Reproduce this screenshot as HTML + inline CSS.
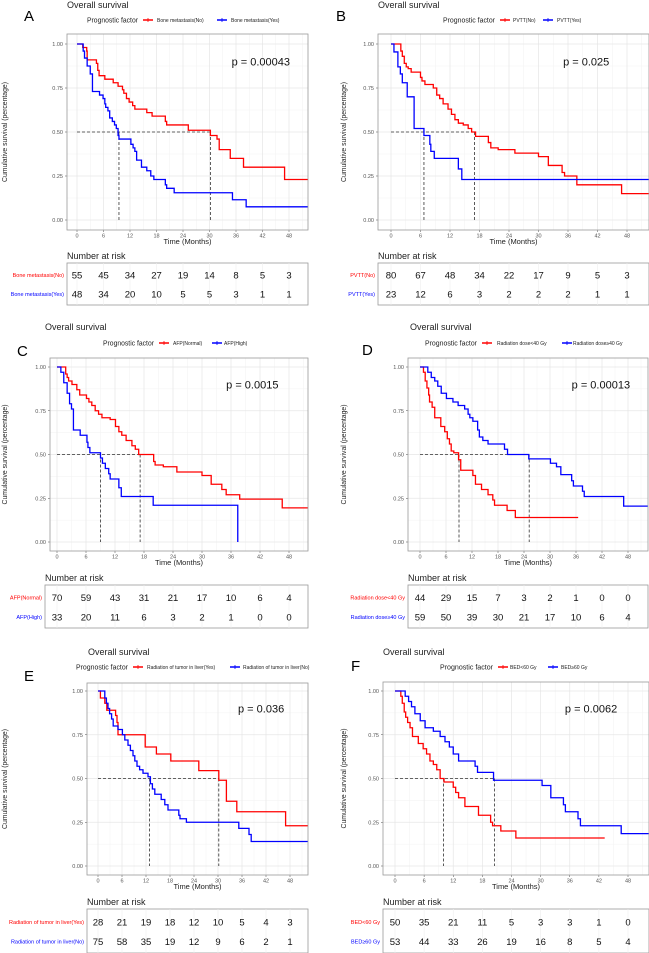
<!DOCTYPE html>
<html><head><meta charset="utf-8"><style>
body{margin:0;background:#fff;}
svg{display:block;font-family:"Liberation Sans",sans-serif;}
</style></head><body>
<svg id="fig" width="649" height="953" viewBox="0 0 649 953" xmlns="http://www.w3.org/2000/svg"></svg>
<script>
// ---- data ----
const riskTimes = [0,6,12,18,24,30,36,42,48];
const xTickLabels = ["0","6","12","18","24","30","36","42","48"];
const yTickValues = [0,0.25,0.5,0.75,1];
const yTickLabels = ["0.00","0.25","0.50","0.75","1.00"];

// A
const aRedT = [0,1.3,2.2,2.3,4.4,4.7,5.0,6.3,8.2,9.3,10.3,10.6,11.2,11.8,12.6,13.1,15.8,17,20,20.3,25.2,30.2,31.7,32.2,34.7,37.7,47];
const aRedS = [1,0.98,0.96,0.91,0.89,0.85,0.82,0.80,0.78,0.76,0.74,0.72,0.69,0.67,0.65,0.63,0.61,0.59,0.56,0.54,0.51,0.48,0.46,0.40,0.35,0.30,0.23];
const aBlueT = [0,1.4,1.7,2.3,3.0,3.5,5.1,5.9,6.3,6.5,7.0,7.4,8.0,8.5,8.9,9.3,9.5,12.2,12.7,13.1,13.5,14.6,15.8,16.7,17.4,20,20.3,22,35.2,38.3];
const aBlueS = [1,0.96,0.92,0.875,0.83,0.73,0.71,0.69,0.66,0.64,0.62,0.58,0.56,0.54,0.52,0.48,0.46,0.43,0.41,0.39,0.34,0.30,0.28,0.25,0.23,0.20,0.18,0.155,0.115,0.075];
const aRiskRed = [55,45,34,27,19,14,8,5,3];
const aRiskBlue = [48,34,20,10,5,5,3,1,1];
// B
const bRedT = [0,2.0,2.3,2.7,3.1,3.5,4.1,4.8,6.0,6.3,6.9,8.6,9.3,9.9,10.6,11.6,12.3,13,13.7,14.7,15.7,16.4,17.2,19.8,20.3,21.8,25.2,30,32,34.8,35.3,37.8,46.9];
const bRedS = [1,0.96,0.93,0.89,0.87,0.86,0.84,0.84,0.81,0.79,0.77,0.75,0.71,0.69,0.66,0.63,0.60,0.57,0.55,0.54,0.52,0.50,0.475,0.44,0.41,0.40,0.38,0.36,0.31,0.27,0.25,0.20,0.15];
const bBlueT = [0,0.6,1.4,1.9,2.3,3.3,4.7,6.7,7.9,8.1,8.8,13.7,14.4];
const bBlueS = [1,0.955,0.87,0.83,0.78,0.70,0.52,0.48,0.43,0.39,0.35,0.29,0.23];
const bRiskRed = [80,67,48,34,22,17,9,5,3];
const bRiskBlue = [23,12,6,3,2,2,2,1,1];
// C
const cRedT = [0,1.8,2.1,2.4,3.1,4.1,4.7,5.0,6.1,6.6,7.2,7.9,8.6,9.3,11,12.1,12.8,13.4,14.3,15.5,16.2,16.9,20,20.3,22,24.8,30,31.9,34.1,35,37.8,46.6];
const cRedS = [1,0.96,0.94,0.92,0.90,0.87,0.84,0.84,0.82,0.80,0.78,0.75,0.73,0.71,0.70,0.66,0.63,0.61,0.58,0.55,0.53,0.50,0.46,0.44,0.43,0.40,0.38,0.33,0.30,0.27,0.245,0.195];
const cBlueT = [0,0.8,1.4,2.1,2.6,3.0,3.4,4.8,6.2,6.4,6.8,9,9.4,10,10.7,11,12.8,13.3,19.9,37.4];
const cBlueS = [1,0.97,0.91,0.85,0.79,0.76,0.64,0.61,0.57,0.54,0.51,0.48,0.45,0.42,0.39,0.36,0.31,0.26,0.21,0];
const cRiskRed = [70,59,43,31,21,17,10,6,4];
const cRiskBlue = [33,20,11,6,3,2,1,0,0];
// D
const dRedT = [0,0.8,1.2,1.6,2.0,2.2,2.8,3.4,4.8,5.7,6.3,6.8,7.2,7.8,8.9,9.4,12.2,12.8,14.2,15.7,16.8,17.2,20.1,22];
const dRedS = [1,0.97,0.92,0.88,0.84,0.80,0.77,0.71,0.66,0.63,0.59,0.56,0.52,0.51,0.47,0.41,0.38,0.33,0.30,0.27,0.24,0.21,0.18,0.14];
const dBlueT = [0,1.8,2.6,3.4,4.1,4.9,6.1,7.6,8.8,10.3,11.1,11.5,12.2,13.3,13.7,14.5,15.7,19.5,20.2,25.1,30.1,31.5,32.5,35,35.4,37.5,37.9,47];
const dBlueS = [1,0.97,0.94,0.92,0.89,0.85,0.82,0.80,0.78,0.76,0.73,0.71,0.69,0.64,0.60,0.58,0.56,0.53,0.50,0.475,0.45,0.43,0.385,0.35,0.32,0.29,0.26,0.205];
const dRiskRed = [44,29,15,7,3,2,1,0,0];
const dRiskBlue = [59,50,39,30,21,17,10,6,4];
// E
const eRedT = [0,0.6,1.7,2.2,4.4,4.75,5.0,11.8,14.6,18.2,25.2,30.2,32.1,34.7,46.9];
const eRedS = [1,0.96,0.93,0.89,0.86,0.82,0.75,0.68,0.64,0.60,0.545,0.49,0.37,0.31,0.23];
const eBlueT = [0,1.7,2.1,2.5,2.9,3.4,3.8,5.0,6.1,6.7,7.5,8.1,8.75,9.2,9.75,10.4,11.25,12.5,13.1,13.6,14.2,15.8,16.7,17.5,20.2,20.5,22.1,35.2,37.75,38.3];
const eBlueS = [1,0.96,0.93,0.90,0.87,0.84,0.80,0.78,0.75,0.72,0.69,0.66,0.63,0.60,0.57,0.55,0.53,0.51,0.47,0.44,0.41,0.38,0.35,0.32,0.29,0.27,0.25,0.215,0.18,0.14];
const eRiskRed = [28,21,19,18,12,10,5,4,3];
const eRiskBlue = [75,58,35,19,12,9,6,2,1];
// F
const fRedT = [0,1.2,1.5,1.9,2.2,2.6,3.1,3.6,4.8,5.8,6.5,7.2,7.9,8.6,9.3,10.1,12,12.5,13.1,14.4,17.2,19.7,20.1,21.8,24.9];
const fRedS = [1,0.97,0.93,0.88,0.85,0.82,0.79,0.74,0.70,0.67,0.64,0.60,0.58,0.55,0.50,0.48,0.45,0.42,0.39,0.34,0.29,0.25,0.23,0.20,0.16];
const fBlueT = [0,2.1,2.8,3.4,4.1,5.2,6.2,7.9,9.3,10.3,11.2,12,13.1,16.5,17,20.3,30.3,32.1,34.7,35.1,37.7,38.2,46.6];
const fBlueS = [1,0.97,0.94,0.91,0.87,0.83,0.79,0.77,0.74,0.71,0.68,0.64,0.60,0.57,0.535,0.49,0.46,0.39,0.35,0.31,0.27,0.23,0.185];
const fRiskRed = [50,35,21,11,5,3,3,1,0];
const fRiskBlue = [53,44,33,26,19,16,8,5,4];

const panels = [
 {id:"a",lab:"A",lx:24,ly:21,tx:67,ty:8,box:[67,308,34,230],x0:77,x48:289,y1:44,y0:220,risk:[67,308,263,305],yt:4,
  leg:[87,20,143,157,217,231],n1:"Bone metastasis(No)",n2:"Bone metastasis(Yes)",p:"p = 0.00043",
  rT:aRedT,rS:aRedS,bT:aBlueT,bS:aBlueS,rr:aRiskRed,rb:aRiskBlue,m1:30.2,m2:9.5,rEnd:53,bEnd:53},
 {id:"b",lab:"B",lx:336,ly:21,tx:378,ty:8,box:[378,649,34,230],x0:391,x48:627,y1:44,y0:220,risk:[378,649,263,305],yt:343,
  leg:[443,20,500,513,543,557],n1:"PVTT(No)",n2:"PVTT(Yes)",p:"p = 0.025",
  rT:bRedT,rS:bRedS,bT:bBlueT,bS:bBlueS,rr:bRiskRed,rb:bRiskBlue,m1:17.0,m2:6.7,rEnd:53,bEnd:53},
 {id:"c",lab:"C",lx:17,ly:356,tx:45,ty:330,box:[50,308,358,551],x0:57,x48:289,y1:367,y0:542,risk:[45,308,585,628],yt:4,
  leg:[103,343,159,173,212,224],n1:"AFP(Normal)",n2:"AFP(High)",p:"p = 0.0015",
  rT:cRedT,rS:cRedS,bT:cBlueT,bS:cBlueS,rr:cRiskRed,rb:cRiskBlue,m1:17.2,m2:9.0,rEnd:53,bEnd:37.4},
 {id:"d",lab:"D",lx:362,ly:355,tx:410,ty:330,box:[408,648,358,551],x0:420,x48:628,y1:367,y0:542,risk:[408,648,585,628],yt:343,
  leg:[425,343,482,497,562,573],n1:"Radiation dose<40 Gy",n2:"Radiation dose\u226540 Gy",p:"p = 0.00013",
  rT:dRedT,rS:dRedS,bT:dBlueT,bS:dBlueS,rr:dRiskRed,rb:dRiskBlue,m1:9.0,m2:25.2,rEnd:36.5,bEnd:53},
 {id:"e",lab:"E",lx:24,ly:681,tx:88,ty:655,box:[87,308,683,875],x0:98,x48:290,y1:691,y0:866,risk:[87,308,909,953],yt:4,
  leg:[76,667,133,147,230,243],n1:"Radiation of tumor in liver(Yes)",n2:"Radiation of tumor in liver(No)",p:"p = 0.036",
  rT:eRedT,rS:eRedS,bT:eBlueT,bS:eBlueS,rr:eRiskRed,rb:eRiskBlue,m1:30.2,m2:12.9,rEnd:53,bEnd:53},
 {id:"f",lab:"F",lx:351,ly:671,tx:383,ty:655,box:[383,649,682,875],x0:395,x48:628,y1:691,y0:866,risk:[383,649,909,953],yt:343,
  leg:[440,667,498,510,548,561],n1:"BED<60 Gy",n2:"BED\u226560 Gy",p:"p = 0.0062",
  rT:fRedT,rS:fRedS,bT:fBlueT,bS:fBlueS,rr:fRiskRed,rb:fRiskBlue,m1:10.0,m2:20.5,rEnd:43.2,bEnd:53}
];
const RED="#ff0000", BLUE="#0000ff";
const svg=document.getElementById('fig');
const NS="http://www.w3.org/2000/svg";
function mk(tag,attrs,parent,txt){const e=document.createElementNS(NS,tag);for(const k in attrs)e.setAttribute(k,attrs[k]);if(txt!==undefined)e.textContent=txt;parent.appendChild(e);return e;}

panels.forEach(P=>{
  const g=mk('g',{},svg);
  
  
  const [L,R,T,B]=P.box;
  const xs=t=>P.x0+(P.x48-P.x0)*t/48;
  const ys=s=>P.y0+(P.y1-P.y0)*s;
  const tMax=(R-P.x0)/((P.x48-P.x0)/48);
  const pl=mk('text',{x:P.lx,y:P.ly,'font-size':15,fill:'#000'},g,P.lab);
  
  const tt=mk('text',{x:P.tx,y:P.ty,'font-size':9,fill:'#222'},g,'Overall survival');
  
  // legend
  const lg=mk('g',{},g);
  
  const [px,py,k1,t1,k2,t2]=P.leg;
  mk('text',{x:px,y:py+2.5,'font-size':7,fill:'#222',textLength:(k1-px-5),lengthAdjust:'spacingAndGlyphs'},lg,'Prognostic factor');
  const e1=mk('g',{},lg);
  mk('line',{x1:k1,x2:k1+10,y1:py,y2:py,stroke:RED,'stroke-width':1.5},e1);
  mk('line',{x1:k1+5,x2:k1+5,y1:py-2,y2:py+2,stroke:RED,'stroke-width':0.8},e1);
  mk('text',{x:t1,y:py+2,'font-size':5,fill:'#222'},e1,P.n1);
  const e2=mk('g',{},lg);
  mk('line',{x1:k2,x2:k2+10,y1:py,y2:py,stroke:BLUE,'stroke-width':1.5},e2);
  mk('line',{x1:k2+5,x2:k2+5,y1:py-2,y2:py+2,stroke:BLUE,'stroke-width':0.8},e2);
  mk('text',{x:t2,y:py+2,'font-size':5,fill:'#222'},e2,P.n2);
  // plot bg + grid
  const pa=mk('g',{},g);
  mk('rect',{x:L,y:T,width:R-L,height:B-T,fill:'#fff'},pa);
  for(let t=3;t<tMax;t+=6){mk('line',{x1:xs(t),x2:xs(t),y1:T,y2:B,stroke:'#f2f2f2','stroke-width':0.5},pa);}
  for(let s=0.125;s<1.1;s+=0.25){mk('line',{x1:L,x2:R,y1:ys(s),y2:ys(s),stroke:'#f2f2f2','stroke-width':0.5},pa);}
  riskTimes.forEach(t=>mk('line',{x1:xs(t),x2:xs(t),y1:T,y2:B,stroke:'#e6e6e6','stroke-width':0.7},pa));
  yTickValues.forEach(s=>mk('line',{x1:L,x2:R,y1:ys(s),y2:ys(s),stroke:'#e6e6e6','stroke-width':0.7},pa));
  // axes ticks
  const xa=mk('g',{},g);
  riskTimes.forEach((t,i)=>{mk('line',{x1:xs(t),x2:xs(t),y1:B,y2:B+2,stroke:'#444','stroke-width':0.5},xa);
    mk('text',{x:xs(t),y:B+7.5,'font-size':5.5,fill:'#555','text-anchor':'middle'},xa,xTickLabels[i]);});
  const xt=mk('text',{x:(L+R)/2,y:B+14,'font-size':7.5,fill:'#222','text-anchor':'middle'},g,'Time (Months)');
  
  const ya=mk('g',{},g);
  yTickValues.forEach((s,i)=>{mk('line',{x1:L-2,x2:L,y1:ys(s),y2:ys(s),stroke:'#444','stroke-width':0.5},ya);
    mk('text',{x:L-4,y:ys(s)+2,'font-size':5.5,fill:'#555','text-anchor':'end'},ya,yTickLabels[i]);});
  const cy=(T+B)/2, cx=P.yt+3;
  const yt=mk('text',{x:cx,y:cy,'font-size':7,fill:'#222','text-anchor':'middle',textLength:100,lengthAdjust:'spacingAndGlyphs',transform:`rotate(-90 ${cx} ${cy})`},g,'Cumulative survival (percentage)');
  
  // medians
  const md=mk('g',{},g);
  const mmax=Math.max(P.m1,P.m2);
  mk('line',{x1:xs(0),x2:xs(mmax),y1:ys(0.5),y2:ys(0.5),stroke:'#333','stroke-width':0.8,'stroke-dasharray':'3,2'},md);
  [P.m1,P.m2].forEach(m=>mk('line',{x1:xs(m),x2:xs(m),y1:ys(0.5),y2:ys(0),stroke:'#333','stroke-width':0.8,'stroke-dasharray':'3,2'},md));
  // curves
  function curve(Ts,Ss,end,col,name){
    let d=`M${xs(Ts[0])},${ys(Ss[0])}`;
    for(let i=1;i<Ts.length;i++){d+=`H${xs(Ts[i])}V${ys(Ss[i])}`;}
    d+=`H${xs(Math.min(end,tMax))}`;
    const p=mk('path',{d:d,fill:'none',stroke:col,'stroke-width':1.3},g);
    
    
  }
  curve(P.rT,P.rS,P.rEnd,RED,'survival-curve-red');
  curve(P.bT,P.bS,P.bEnd,BLUE,'survival-curve-blue');
  mk('rect',{x:L,y:T,width:R-L,height:B-T,fill:'none',stroke:'#999','stroke-width':0.8},g);
  const pv=mk('text',{x:xs(35),y:ys(0.9)+4,'font-size':11,fill:'#111'},g,P.p);
  
  // risk table
  const [rl,rr,rt,rb]=P.risk;
  const rg=mk('g',{},g);
  mk('text',{x:rl,y:rt-4,'font-size':9,fill:'#222'},rg,'Number at risk');
  mk('rect',{x:rl,y:rt,width:rr-rl,height:rb-rt,fill:'#fff',stroke:'#999','stroke-width':0.8},rg);
  riskTimes.forEach(t=>mk('line',{x1:xs(t),x2:xs(t),y1:rt,y2:rb,stroke:'#eee','stroke-width':0.6},rg));
  const y1r=rt+(rb-rt)*0.29, y2r=rt+(rb-rt)*0.74;
  mk('text',{x:rl-3,y:y1r+2,'font-size':5.5,fill:RED,'text-anchor':'end'},rg,P.n1);
  mk('text',{x:rl-3,y:y2r+2,'font-size':5.5,fill:BLUE,'text-anchor':'end'},rg,P.n2);
  riskTimes.forEach((t,i)=>{
    mk('text',{x:xs(t),y:y1r+3.5,'font-size':9.5,fill:'#111','text-anchor':'middle'},rg,String(P.rr[i]));
    mk('text',{x:xs(t),y:y2r+3.5,'font-size':9.5,fill:'#111','text-anchor':'middle'},rg,String(P.rb[i]));
  });
});
</script>
</body></html>
